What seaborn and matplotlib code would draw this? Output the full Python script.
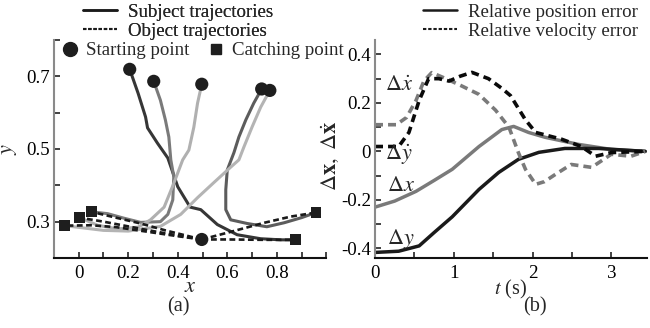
import matplotlib
matplotlib.use("Agg")
import matplotlib.pyplot as plt
from matplotlib.lines import Line2D
from matplotlib.ticker import MultipleLocator
import seaborn as sns

# --------------------------------------------------------------------------- #
# Panel (a): trajectories in the x-y plane (start point first, catch point last)
# --------------------------------------------------------------------------- #
subj1_x = [0.206, 0.24, 0.27, 0.278, 0.318, 0.36, 0.40, 0.45, 0.493, 0.56, 0.64, 0.735, 0.816, 0.877]
subj1_y = [0.719, 0.653, 0.588, 0.558, 0.516, 0.475, 0.396, 0.34, 0.333, 0.292, 0.264, 0.253, 0.25, 0.25]
subj2_x = [0.303, 0.33, 0.35, 0.364, 0.372, 0.384, 0.38, 0.36, 0.33, 0.25, 0.18, 0.117, 0.052]
subj2_y = [0.686, 0.634, 0.58, 0.533, 0.47, 0.424, 0.36, 0.32, 0.30, 0.298, 0.31, 0.322, 0.327]
subj3_x = [0.497, 0.48, 0.465, 0.445, 0.42, 0.385, 0.345, 0.29, 0.24, 0.157, 0.077, 0.004]
subj3_y = [0.678, 0.626, 0.56, 0.497, 0.47, 0.407, 0.34, 0.305, 0.285, 0.28, 0.29, 0.311]
subj4_x = [0.739, 0.707, 0.675, 0.647, 0.627, 0.60, 0.594, 0.594, 0.614, 0.68, 0.76, 0.83, 0.90, 0.958]
subj4_y = [0.665, 0.626, 0.58, 0.533, 0.49, 0.442, 0.388, 0.333, 0.305, 0.295, 0.286, 0.297, 0.311, 0.325]
subj5_x = [0.772, 0.735, 0.70, 0.667, 0.647, 0.614, 0.545, 0.48, 0.412, 0.33, 0.2, 0.1, -0.057]
subj5_y = [0.661, 0.615, 0.56, 0.505, 0.47, 0.45, 0.407, 0.366, 0.32, 0.287, 0.274, 0.276, 0.289]

obj1_x = [0.497, 0.6, 0.75, 0.877]
obj1_y = [0.251, 0.251, 0.25, 0.25]
obj2_x = [0.497, 0.614, 0.75, 0.857, 0.958]
obj2_y = [0.251, 0.272, 0.297, 0.314, 0.325]
obj3_x = [0.497, 0.4, 0.3, 0.15, 0.05, -0.057]
obj3_y = [0.251, 0.26, 0.27, 0.285, 0.29, 0.289]
obj4_x = [0.497, 0.4, 0.3, 0.2, 0.1, 0.004]
obj4_y = [0.251, 0.262, 0.274, 0.287, 0.30, 0.311]
obj5_x = [0.497, 0.35, 0.25, 0.15, 0.052]
obj5_y = [0.251, 0.276, 0.295, 0.311, 0.327]

start_x = [0.206, 0.303, 0.497, 0.739, 0.772, 0.497]
start_y = [0.719, 0.686, 0.678, 0.665, 0.661, 0.251]
catch_x = [-0.057, 0.004, 0.052, 0.877, 0.958]
catch_y = [0.289, 0.311, 0.327, 0.25, 0.325]

subj_colors = ["#363636", "#7a7a7a", "#b0b0b0", "#5c5c5c", "#b4b4b4"]

# --------------------------------------------------------------------------- #
# Panel (b): relative errors vs time
# --------------------------------------------------------------------------- #
dx_t = [0.0, 0.25, 0.52, 0.75, 0.98, 1.32, 1.61, 1.76, 1.95, 2.16, 2.58, 3.0, 3.43]
dx_v = [-0.23, -0.205, -0.165, -0.12, -0.074, 0.02, 0.09, 0.103, 0.078, 0.058, 0.029, 0.008, 0.0]
dy_t = [0.0, 0.3, 0.56, 0.75, 0.98, 1.32, 1.57, 1.82, 2.08, 2.41, 2.84, 3.43]
dy_v = [-0.417, -0.412, -0.39, -0.335, -0.27, -0.157, -0.087, -0.033, -0.004, 0.012, 0.012, 0.0]
dxd_t = [0.0, 0.27, 0.4, 0.52, 0.62, 0.72, 0.9, 1.1, 1.32, 1.53, 1.70, 1.82, 1.91, 2.04, 2.15, 2.29, 2.49, 2.75, 3.0, 3.25, 3.43]
dxd_v = [0.11, 0.11, 0.14, 0.21, 0.29, 0.325, 0.30, 0.27, 0.235, 0.17, 0.10, -0.005, -0.074, -0.136, -0.125, -0.095, -0.054, -0.066, -0.012, -0.02, 0.0]
dyd_t = [0.0, 0.3, 0.43, 0.56, 0.68, 0.81, 0.94, 1.08, 1.23, 1.44, 1.61, 1.72, 1.91, 2.04, 2.37, 2.62, 2.8, 3.0, 3.43]
dyd_v = [0.02, 0.02, 0.078, 0.21, 0.30, 0.30, 0.29, 0.31, 0.326, 0.30, 0.26, 0.23, 0.13, 0.078, 0.05, 0.02, -0.02, -0.005, 0.0]

label_t = [0.30, 0.30, 0.33, 0.33]
label_v = [0.27, -0.012, -0.145, -0.36]
label_txt = [r"$\Delta\dot{x}$", r"$\Delta\dot{y}$", r"$\Delta x$", r"$\Delta y$"]

FS = 13.6


def style_axis(ax):
    sns.despine(ax=ax)
    ax.spines["left"].set_color("#8a8a8a")
    ax.spines["left"].set_linewidth(1.5)
    ax.spines["bottom"].set_color("#111111")
    ax.spines["bottom"].set_linewidth(1.5)
    ax.tick_params(which="both", direction="in", length=4, width=1.2,
                   colors="#222222", labelcolor="black", labelsize=FS)
    ax.tick_params(axis="x", which="major", pad=5)
    ax.tick_params(axis="y", which="major", pad=3)


sns.set_theme(style="ticks")
plt.rcParams["font.family"] = ["Liberation Serif", "DejaVu Serif"]
plt.rcParams["mathtext.fontset"] = "stix"

fig = plt.figure(figsize=(6.5, 3.28), dpi=100)
ax1 = fig.add_axes([0.083, 0.2134, 0.419, 0.665])
ax2 = fig.add_axes([0.577, 0.2134, 0.418, 0.665])

# ---- (a) ------------------------------------------------------------------ #
subj = [(subj1_x, subj1_y), (subj2_x, subj2_y), (subj3_x, subj3_y),
        (subj4_x, subj4_y), (subj5_x, subj5_y)]
for (xs, ys), c in zip(subj, subj_colors):
    sns.lineplot(x=xs, y=ys, sort=False, estimator=None, color=c, lw=2.2, ax=ax1)

objs = [(obj1_x, obj1_y), (obj2_x, obj2_y), (obj3_x, obj3_y),
        (obj4_x, obj4_y), (obj5_x, obj5_y)]
for xs, ys in objs:
    sns.lineplot(x=xs, y=ys, sort=False, estimator=None, color="#1a1a1a",
                 lw=1.9, ax=ax1).lines[-1].set_dashes([2.2, 1.3])

sns.scatterplot(x=start_x, y=start_y, marker="o", s=90, color="#1e1e1e",
                edgecolor="none", zorder=5, ax=ax1)
sns.scatterplot(x=catch_x, y=catch_y, marker="s", s=60, color="#1e1e1e",
                edgecolor="none", zorder=5, ax=ax1)

ax1.set_xlim(-0.1, 1.0)
ax1.set_ylim(0.2, 0.8)
ax1.set_xticks([0, 0.2, 0.4, 0.6, 0.8])
ax1.set_xticklabels(["0", "0.2", "0.4", "0.6", "0.8"])
ax1.xaxis.set_minor_locator(MultipleLocator(0.1))
ax1.set_yticks([0.3, 0.5, 0.7])
ax1.set_yticklabels(["0.3", "0.5", "0.7"])
ax1.yaxis.set_minor_locator(MultipleLocator(0.1))
style_axis(ax1)
ax1.set_xlabel("$x$", fontsize=16, labelpad=-3)
ax1.set_ylabel("$y$", fontsize=16)
ax1.yaxis.set_label_coords(-0.13, 0.5)

line_handles = [Line2D([], [], color="#1a1a1a", lw=1.8),
                Line2D([], [], color="#1a1a1a", lw=1.5, dashes=[1.6, 0.9])]
leg1 = fig.legend(line_handles, ["Subject trajectories", "Object trajectories"],
                  loc="upper left", bbox_to_anchor=(0.128, 0.99), frameon=False,
                  fontsize=FS, handlelength=1.8, handletextpad=0.55,
                  labelspacing=0.1, borderpad=0.0, borderaxespad=0.0)
mark_handles = [Line2D([], [], ls="none", marker="o", ms=10, color="#1e1e1e"),
                Line2D([], [], ls="none", marker="s", ms=6.5, color="#1e1e1e")]
fig.legend(mark_handles, ["Starting point", "Catching point"], loc="upper left",
           bbox_to_anchor=(0.096, 0.872), frameon=False, fontsize=FS, ncol=2,
           handlelength=0.8, handletextpad=0.45, columnspacing=1.0,
           borderpad=0.0, borderaxespad=0.0)
fig.add_artist(leg1)

# ---- (b) ------------------------------------------------------------------ #
sns.lineplot(x=dx_t, y=dx_v, sort=False, estimator=None, color="#7a7a7a", lw=2.5, ax=ax2)
sns.lineplot(x=dy_t, y=dy_v, sort=False, estimator=None, color="#1a1a1a", lw=2.5, ax=ax2)
sns.lineplot(x=dxd_t, y=dxd_v, sort=False, estimator=None, color="#7a7a7a",
             lw=2.6, ax=ax2).lines[-1].set_dashes([2.2, 1.4])
sns.lineplot(x=dyd_t, y=dyd_v, sort=False, estimator=None, color="#0a0a0a",
             lw=2.6, ax=ax2).lines[-1].set_dashes([2.2, 1.4])

ax2.set_xlim(0, 3.45)
ax2.set_ylim(-0.44, 0.46)
ax2.set_xticks([0, 1, 2, 3])
ax2.xaxis.set_minor_locator(MultipleLocator(0.5))
ax2.set_yticks([-0.4, -0.2, 0, 0.2, 0.4])
ax2.set_yticklabels(["-0.4", "-0.2", "0", "0.2", "0.4"])
ax2.yaxis.set_minor_locator(MultipleLocator(0.1))
style_axis(ax2)
ax2.set_xlabel("$t$ (s)", fontsize=FS + 1, labelpad=-3)
ax2.set_ylabel(r"$\Delta\mathbf{x},\ \Delta\dot{\mathbf{x}}$", fontsize=16)
ax2.yaxis.set_label_coords(-0.125, 0.47)

for t, v, s in zip(label_t, label_v, label_txt):
    ax2.text(t, v, s, fontsize=16, ha="center", va="center")

err_handles = [Line2D([], [], color="#1a1a1a", lw=1.8),
               Line2D([], [], color="#1a1a1a", lw=1.5, dashes=[1.6, 0.9])]
fig.legend(err_handles, ["Relative position error", "Relative velocity error"],
           loc="upper left", bbox_to_anchor=(0.651, 0.99), frameon=False,
           fontsize=FS, handlelength=1.8, handletextpad=0.55,
           labelspacing=0.1, borderpad=0.0, borderaxespad=0.0)

fig.text(0.274, 0.063, "(a)", fontsize=FS + 1, ha="center", va="center")
fig.text(0.823, 0.063, "(b)", fontsize=FS + 1, ha="center", va="center")

fig.savefig("out.png", dpi=100)
